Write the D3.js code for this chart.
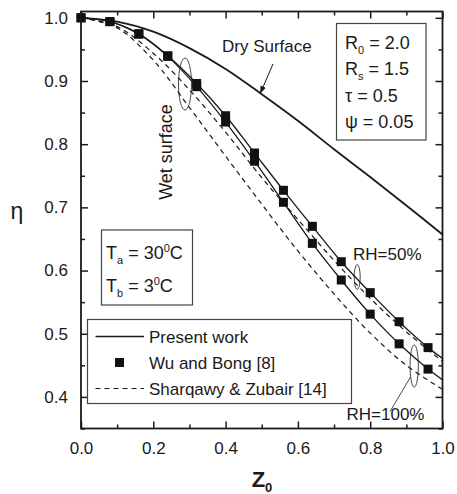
<!DOCTYPE html>
<html>
<head>
<meta charset="utf-8">
<script src="https://cdn.jsdelivr.net/npm/d3@7"></script>
<style>
  body { margin: 0; background: #fff; }
  svg { display: block; }
  text { font-family: "Liberation Sans", Arial, sans-serif; fill: #1a1a1a; }
</style>
</head>
<body>
<svg id="chart" width="457" height="494"></svg>
<script>
// ---- data ----
const wuZ = [0, 0.08, 0.16, 0.24, 0.32, 0.40, 0.48, 0.56, 0.64, 0.72, 0.80, 0.88, 0.96];
const wuRH50 = [1.0, 0.994, 0.975, 0.940, 0.896, 0.845, 0.786, 0.727, 0.670, 0.614, 0.565, 0.519, 0.478];
const wuRH100 = [1.0, 0.994, 0.974, 0.939, 0.891, 0.835, 0.773, 0.708, 0.643, 0.585, 0.531, 0.484, 0.444];

const presentZ = [0, 0.08, 0.16, 0.24, 0.32, 0.40, 0.48, 0.56, 0.64, 0.72, 0.80, 0.88, 0.96, 1.0];
const presentRH50 = [1.0, 0.994, 0.975, 0.940, 0.896, 0.845, 0.786, 0.727, 0.670, 0.614, 0.565, 0.519, 0.478, 0.461];
const presentRH100 = [1.0, 0.994, 0.974, 0.939, 0.891, 0.835, 0.773, 0.708, 0.643, 0.585, 0.531, 0.484, 0.444, 0.427];

const gridZ = [0, 0.1, 0.2, 0.3, 0.4, 0.5, 0.6, 0.7, 0.8, 0.9, 1.0];
const drySurface = [1.0, 0.994, 0.978, 0.952, 0.919, 0.879, 0.837, 0.792, 0.748, 0.703, 0.657];
const sharqRH50 = [1.0, 0.986, 0.944, 0.886, 0.819, 0.747, 0.681, 0.616, 0.556, 0.503, 0.456];
const sharqRH100 = [1.0, 0.984, 0.933, 0.858, 0.781, 0.705, 0.631, 0.563, 0.501, 0.450, 0.412];

const xTicks = [0, 0.2, 0.4, 0.6, 0.8, 1.0];
const xMinor = [0.1, 0.3, 0.5, 0.7, 0.9];
const yTicks = [0.4, 0.5, 0.6, 0.7, 0.8, 0.9, 1.0];
const yMinor = [0.35, 0.45, 0.55, 0.65, 0.75, 0.85, 0.95];

// ---- layout ----
const svg = d3.select("#chart");
const L = 81, R = 442.5, T = 11.5, B = 428.5;
const x = d3.scaleLinear().domain([0, 1]).range([L, R]);
const y = d3.scaleLinear().domain([0.35, 1.01]).range([B, T]);
const ink = "#1a1a1a";

const line = d3.line().x(d => x(d[0])).y(d => y(d[1])).curve(d3.curveCatmullRom.alpha(0.5));
const pairs = (xs, ys) => xs.map((v, i) => [v, ys[i]]);

const g = svg.append("g");

// curves
g.append("path").datum(pairs(gridZ, drySurface)).attr("d", line)
  .attr("fill", "none").attr("stroke", ink).attr("stroke-width", 1.8);
[sharqRH50, sharqRH100].forEach(s => {
  g.append("path").datum(pairs(gridZ, s)).attr("d", line)
    .attr("fill", "none").attr("stroke", ink).attr("stroke-width", 1.2)
    .attr("stroke-dasharray", "5,4");
});
[presentRH50, presentRH100].forEach(s => {
  g.append("path").datum(pairs(presentZ, s)).attr("d", line)
    .attr("fill", "none").attr("stroke", ink).attr("stroke-width", 1.3);
});
const sq = 9;
[wuRH50, wuRH100].forEach(s => {
  g.selectAll(null).data(pairs(wuZ, s)).enter().append("rect")
    .attr("x", d => x(d[0]) - sq / 2).attr("y", d => y(d[1]) - sq / 2)
    .attr("width", sq).attr("height", sq).attr("fill", "#111");
});

// axes frame
const axes = svg.append("g");
const fmt = d3.format(".1f");
function addAxis(axisFn, scale, vals, pos, size, labels, pad) {
  const a = axisFn(scale).tickValues(vals).tickSizeInner(-size).tickSizeOuter(0);
  a.tickFormat(labels ? fmt : () => "");
  if (pad) a.tickPadding(pad);
  const isX = (axisFn === d3.axisBottom || axisFn === d3.axisTop);
  return axes.append("g").attr("transform", isX ? `translate(0,${pos})` : `translate(${pos},0)`).call(a);
}
addAxis(d3.axisBottom, x, xTicks, B, 7, true, 13);
addAxis(d3.axisBottom, x, xMinor, B, 4, false);
addAxis(d3.axisTop, x, xTicks, T, 7, false);
addAxis(d3.axisTop, x, xMinor, T, 4, false);
addAxis(d3.axisLeft, y, yTicks, L, 7, true, 13);
addAxis(d3.axisLeft, y, yMinor, L, 4, false);
addAxis(d3.axisRight, y, yTicks, R, 7, false);
addAxis(d3.axisRight, y, yMinor, R, 4, false);
axes.selectAll(".domain").remove();
axes.selectAll(".tick line").attr("stroke", ink).attr("stroke-width", 1.5);
axes.selectAll(".tick text").attr("font-size", 17).attr("fill", ink)
  .attr("font-family", "Liberation Sans, Arial, sans-serif");
axes.append("rect").attr("x", L).attr("y", T).attr("width", R - L).attr("height", B - T)
  .attr("fill", "none").attr("stroke", ink).attr("stroke-width", 1.8);

// axis titles
svg.append("text").attr("x", 17).attr("y", 219)
  .attr("text-anchor", "middle").attr("font-size", 23).text("η");
const zt = svg.append("text").attr("x", 262).attr("y", 487).attr("text-anchor", "middle")
  .attr("font-size", 22).attr("font-weight", "bold");
zt.append("tspan").text("Z");
zt.append("tspan").attr("font-size", 13).attr("dy", 5).text("0");

// Dry Surface annotation
svg.append("defs").append("marker").attr("id", "arr").attr("viewBox", "0 0 10 10")
  .attr("refX", 10).attr("refY", 5).attr("markerWidth", 8).attr("markerHeight", 8)
  .attr("orient", "auto").append("path").attr("d", "M0,1.5 L10,5 L0,8.5 Z").attr("fill", ink);
svg.append("text").attr("x", 222).attr("y", 52).attr("font-size", 17).text("Dry Surface");
svg.append("line").attr("x1", 273).attr("y1", 64).attr("x2", 260).attr("y2", 94)
  .attr("stroke", ink).attr("stroke-width", 1).attr("marker-end", "url(#arr)");

// Wet surface
svg.append("text").attr("transform", "translate(172,152) rotate(-90)")
  .attr("text-anchor", "middle").attr("font-size", 18).text("Wet surface");
svg.append("ellipse").attr("cx", 185).attr("cy", 84).attr("rx", 6.5).attr("ry", 26)
  .attr("fill", "none").attr("stroke", ink).attr("stroke-width", 0.8);

// RH labels
svg.append("text").attr("x", 353).attr("y", 260).attr("font-size", 17).text("RH=50%");
svg.append("ellipse").attr("cx", 357.2).attr("cy", 277).attr("rx", 3).attr("ry", 12.5)
  .attr("fill", "none").attr("stroke", ink).attr("stroke-width", 0.8);
svg.append("text").attr("x", 346.5).attr("y", 420).attr("font-size", 17).text("RH=100%");
svg.append("ellipse").attr("cx", 414.2).attr("cy", 366).attr("rx", 4.2).attr("ry", 21)
  .attr("fill", "none").attr("stroke", ink).attr("stroke-width", 0.8);
svg.append("line").attr("x1", 410.5).attr("y1", 377).attr("x2", 390).attr("y2", 411.5)
  .attr("stroke", ink).attr("stroke-width", 0.8);

// parameter box
svg.append("rect").attr("x", 336.5).attr("y", 23.5).attr("width", 89.5).attr("height", 116.5)
  .attr("fill", "#fff").attr("stroke", "#444").attr("stroke-width", 1.2);
const params = [["R", "0", " = 2.0"], ["R", "s", " = 1.5"], ["τ", "", " = 0.5"], ["ψ", "", " = 0.05"]];
params.forEach((p, i) => {
  const t = svg.append("text").attr("x", 345).attr("y", 48.5 + i * 26.6).attr("font-size", 18);
  t.append("tspan").text(p[0]);
  if (p[1]) {
    t.append("tspan").attr("font-size", 11).attr("dy", 5).text(p[1]);
    t.append("tspan").attr("dy", -5).text(p[2]);
  } else {
    t.append("tspan").text(p[2]);
  }
});

// temperature box
svg.append("rect").attr("x", 101.5).attr("y", 230).attr("width", 91).attr("height", 75)
  .attr("fill", "#fff").attr("stroke", "#444").attr("stroke-width", 1.2);
const temps = [["T", "a", " = 30", "0", "C"], ["T", "b", " = 3", "0", "C"]];
temps.forEach((p, i) => {
  const t = svg.append("text").attr("x", 106).attr("y", 258.5 + i * 33.3).attr("font-size", 18);
  t.append("tspan").text(p[0]);
  t.append("tspan").attr("font-size", 11).attr("dy", 5).text(p[1]);
  t.append("tspan").attr("dy", -5).text(p[2]);
  t.append("tspan").attr("font-size", 11).attr("dy", -7).text(p[3]);
  t.append("tspan").attr("dy", 7).text(p[4]);
});

// legend
svg.append("rect").attr("x", 87.5).attr("y", 319.5).attr("width", 264).attr("height", 84)
  .attr("fill", "#fff").attr("stroke", "#444").attr("stroke-width", 1.2);
svg.append("line").attr("x1", 95.5).attr("x2", 144).attr("y1", 336.5).attr("y2", 336.5)
  .attr("stroke", ink).attr("stroke-width", 1.3);
svg.append("rect").attr("x", 115).attr("y", 358).attr("width", sq).attr("height", sq).attr("fill", "#111");
svg.append("line").attr("x1", 95.5).attr("x2", 144).attr("y1", 388.5).attr("y2", 388.5)
  .attr("stroke", ink).attr("stroke-width", 1.2).attr("stroke-dasharray", "5,4");
const legendLabels = ["Present work", "Wu and Bong [8]", "Sharqawy & Zubair [14]"];
legendLabels.forEach((s, i) => {
  svg.append("text").attr("x", 149).attr("y", 342.5 + i * 26).attr("font-size", 17).text(s);
});
</script>
</body>
</html>
